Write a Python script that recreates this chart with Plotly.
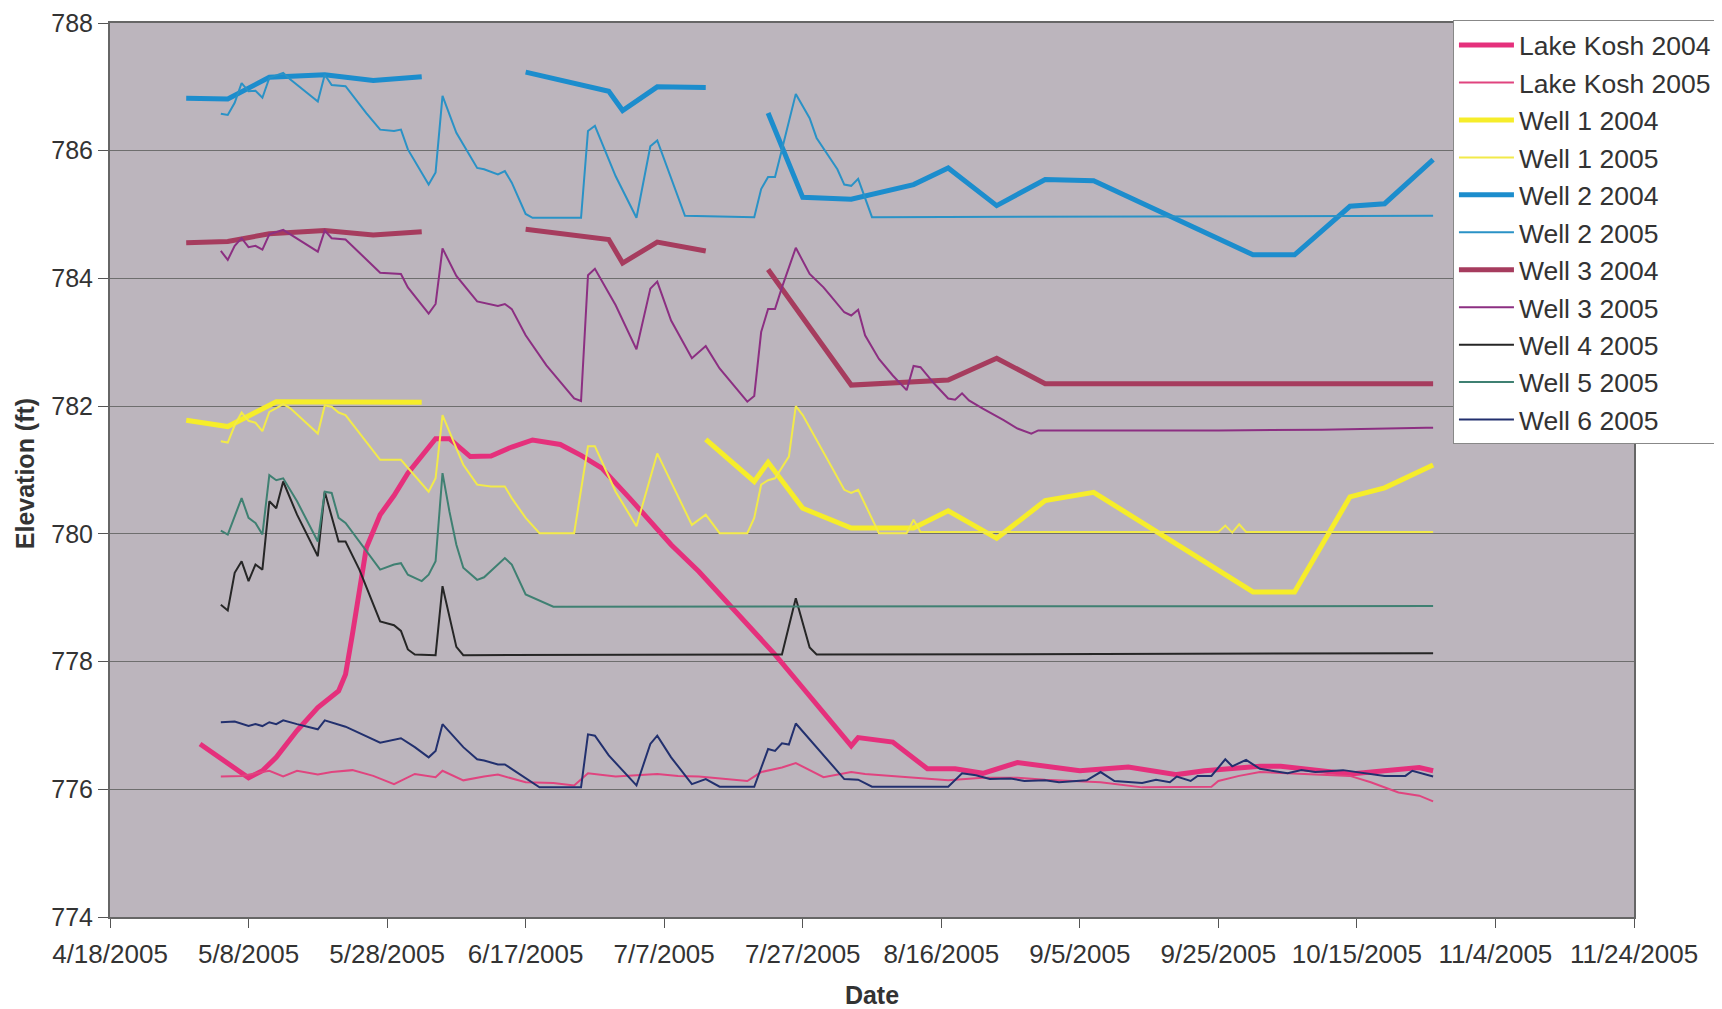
import pandas as pd
import plotly.graph_objects as go

# x values are days after 4/18/2005 (the axis origin); 2004 series are plotted on 2005 dates
START = "2005-04-18"

lake04_days = [13, 20, 22, 24, 27, 30, 33, 34, 35, 36, 37, 39, 41, 43, 47, 49, 52, 55, 58, 61,
               65, 68, 71, 75, 81, 85, 93, 96, 100, 104, 107, 108, 113, 118, 122, 126, 131, 140,
               147, 154, 158, 166, 169, 179, 189, 191]
lake04 = [776.71, 776.18, 776.29, 776.50, 776.92, 777.28, 777.54, 777.80, 778.43, 779.15,
          779.78, 780.30, 780.60, 780.95, 781.49, 781.49, 781.21, 781.22, 781.36, 781.47,
          781.40, 781.23, 781.03, 780.56, 779.83, 779.41, 778.48, 778.11, 777.59, 777.07,
          776.68, 776.81, 776.74, 776.32, 776.32, 776.25, 776.42, 776.29, 776.35, 776.23,
          776.29, 776.36, 776.36, 776.24, 776.34, 776.29]

lake05_days = [16, 19, 23, 25, 27, 30, 32, 35, 38, 41, 44, 47, 48, 51, 54, 56, 60, 64, 67, 69,
               73, 79, 82, 85, 92, 94, 97, 99, 103, 107, 109, 115, 121, 126, 131, 135, 143, 149,
               159, 160, 163, 166, 172, 179, 182, 186, 189, 191]
lake05 = [776.20, 776.21, 776.29, 776.20, 776.29, 776.23, 776.27, 776.30, 776.21, 776.08,
          776.24, 776.19, 776.29, 776.14, 776.20, 776.23, 776.11, 776.10, 776.06, 776.25,
          776.20, 776.24, 776.21, 776.20, 776.13, 776.27, 776.34, 776.41, 776.19, 776.27,
          776.24, 776.19, 776.14, 776.18, 776.18, 776.15, 776.11, 776.03, 776.04, 776.13,
          776.21, 776.27, 776.24, 776.21, 776.11, 775.95, 775.90, 775.81]

w1_04_days = [11, 17, 24, 31, 38, 45, 60, 86, 93, 95, 100, 107, 116, 121, 128, 135, 142, 165,
              171, 179, 184, 191]
w1_04 = [781.78, 781.68, 782.07, 782.07, 782.07, 782.06, None, 781.48, 780.82, 781.12, 780.40,
         780.09, 780.09, 780.36, 779.93, 780.52, 780.65, 779.09, 779.09, 780.58, 780.72, 781.08]

w1_05_days = [16, 17, 18, 19, 20, 21, 22, 23, 24, 25, 26, 30, 31, 32, 33, 34, 39, 42, 46, 47,
              48, 51, 53, 55, 57, 58, 60, 62, 67, 69, 70, 73, 76, 79, 84, 86, 88, 92, 93, 94,
              95, 96, 98, 99, 100, 106, 107, 108, 111, 115, 116, 117, 160, 161, 162, 163, 164, 191]
w1_05 = [781.45, 781.43, 781.70, 781.90, 781.77, 781.74, 781.61, 781.91, 781.97, 782.03,
         781.97, 781.57, 782.01, 781.99, 781.90, 781.86, 781.16, 781.16, 780.66, 780.87,
         781.86, 781.08, 780.77, 780.74, 780.74, 780.56, 780.25, 780.01, 780.01, 781.37,
         781.37, 780.66, 780.12, 781.26, 780.14, 780.30, 780.01, 780.01, 780.25, 780.77,
         780.84, 780.87, 781.21, 782.00, 781.86, 780.69, 780.64, 780.69, 780.01, 780.01,
         780.22, 780.03, 780.03, 780.13, 780.02, 780.15, 780.03, 780.03]

w2_04_days = [11, 17, 23, 31, 38, 45, 52, 60, 72, 74, 79, 86, 90, 95, 100, 107, 116, 121, 128,
              135, 142, 165, 171, 179, 184, 191]
w2_04 = [786.82, 786.81, 787.15, 787.19, 787.10, 787.16, None, 787.23, 786.93, 786.63,
         787.00, 786.99, None, 786.59, 785.27, 785.24, 785.47, 785.73, 785.14, 785.55,
         785.53, 784.37, 784.37, 785.13, 785.17, 785.86]

w2_05_days = [16, 17, 18, 19, 20, 21, 22, 23, 25, 26, 30, 31, 32, 34, 37, 39, 41, 42, 43, 46,
              47, 48, 50, 53, 54, 56, 57, 58, 60, 61, 68, 69, 70, 73, 76, 78, 79, 83, 93, 94,
              95, 96, 97, 99, 101, 102, 105, 106, 107, 108, 110, 191]
w2_05 = [786.58, 786.56, 786.75, 787.06, 786.93, 786.94, 786.83, 787.14, 787.22, 787.12,
         786.77, 787.19, 787.03, 787.01, 786.59, 786.33, 786.31, 786.33, 786.02, 785.47,
         785.66, 786.86, 786.28, 785.73, 785.71, 785.63, 785.68, 785.50, 785.01, 784.95,
         784.95, 786.31, 786.39, 785.60, 784.95, 786.07, 786.16, 784.98, 784.96, 785.40,
         785.59, 785.59, 786.02, 786.89, 786.51, 786.20, 785.71, 785.47, 785.45, 785.56,
         784.96, 784.98]

w3_04_days = [11, 17, 23, 31, 38, 45, 52, 60, 72, 74, 79, 86, 90, 95, 107, 121, 128, 135, 191]
w3_04 = [784.56, 784.58, 784.70, 784.75, 784.68, 784.73, None, 784.77, 784.61, 784.24,
         784.57, 784.43, None, 784.14, 782.33, 782.41, 782.75, 782.35, 782.35]

w3_05_days = [16, 17, 18, 19, 20, 21, 22, 23, 25, 26, 30, 31, 32, 34, 37, 39, 42, 43, 46, 47,
              48, 50, 53, 54, 56, 57, 58, 60, 63, 65, 67, 68, 69, 70, 73, 76, 78, 79, 81, 84,
              86, 88, 90, 92, 93, 94, 95, 96, 97, 99, 101, 103, 104, 106, 107, 108, 109, 111,
              113, 115, 116, 117, 119, 121, 122, 123, 124, 126, 129, 131, 133, 134, 160, 175,
              190, 191]
w3_05 = [784.43, 784.29, 784.51, 784.63, 784.49, 784.51, 784.45, 784.69, 784.76, 784.69,
         784.42, 784.75, 784.63, 784.61, 784.30, 784.09, 784.07, 783.86, 783.45, 783.60,
         784.47, 784.04, 783.64, 783.62, 783.57, 783.60, 783.52, 783.11, 782.64, 782.38,
         782.12, 782.08, 784.05, 784.15, 783.58, 782.89, 783.84, 783.95, 783.34, 782.75,
         782.94, 782.59, 782.33, 782.07, 782.16, 783.16, 783.52, 783.52, 783.86, 784.48,
         784.07, 783.86, 783.73, 783.47, 783.42, 783.51, 783.11, 782.74, 782.48, 782.25,
         782.63, 782.61, 782.35, 782.12, 782.10, 782.20, 782.09, 781.96, 781.78, 781.65,
         781.57, 781.62, 781.62, 781.63, 781.66, 781.66]

w4_05_days = [16, 17, 18, 19, 20, 21, 22, 23, 24, 25, 27, 30, 31, 33, 34, 36, 39, 41, 42, 43,
              44, 47, 48, 50, 51, 97, 99, 101, 102, 191]
w4_05 = [778.89, 778.80, 779.39, 779.57, 779.26, 779.52, 779.44, 780.51, 780.40, 780.82,
         780.30, 779.65, 780.66, 779.88, 779.88, 779.44, 778.63, 778.57, 778.48, 778.19,
         778.11, 778.10, 779.18, 778.23, 778.10, 778.11, 778.99, 778.22, 778.11, 778.13]

w5_05_days = [16, 17, 19, 20, 21, 22, 23, 24, 25, 27, 30, 31, 32, 33, 34, 36, 39, 41, 42, 43,
              45, 46, 47, 48, 49, 50, 51, 53, 54, 57, 58, 60, 62, 64, 191]
w5_05 = [780.05, 779.99, 780.56, 780.25, 780.17, 779.99, 780.92, 780.84, 780.87, 780.51,
         779.88, 780.66, 780.64, 780.25, 780.17, 779.88, 779.44, 779.52, 779.54, 779.36,
         779.26, 779.36, 779.57, 780.95, 780.35, 779.83, 779.47, 779.28, 779.32, 779.62,
         779.52, 779.05, 778.95, 778.86, 778.87]

w6_05_days = [16, 18, 20, 21, 22, 23, 24, 25, 27, 30, 31, 33, 34, 39, 42, 44, 46, 47, 48, 51,
              53, 54, 56, 57, 61, 62, 68, 69, 70, 72, 76, 78, 79, 81, 84, 86, 88, 93, 95, 96,
              97, 98, 99, 106, 108, 110, 121, 123, 125, 127, 130, 132, 135, 137, 141, 143, 145,
              149, 151, 153, 154, 156, 157, 159, 161, 162, 164, 166, 170, 172, 174, 178, 184,
              187, 188, 191]
w6_05 = [777.05, 777.06, 776.99, 777.02, 776.99, 777.05, 777.02, 777.08, 777.02, 776.94,
         777.08, 777.01, 776.98, 776.73, 776.80, 776.66, 776.50, 776.60, 777.02, 776.66,
         776.47, 776.45, 776.39, 776.39, 776.11, 776.03, 776.03, 776.86, 776.84, 776.53,
         776.06, 776.71, 776.84, 776.50, 776.08, 776.16, 776.04, 776.04, 776.63, 776.60,
         776.72, 776.70, 777.03, 776.16, 776.15, 776.04, 776.04, 776.25, 776.22, 776.16,
         776.17, 776.13, 776.14, 776.11, 776.14, 776.27, 776.13, 776.10, 776.15, 776.11,
         776.20, 776.13, 776.21, 776.21, 776.47, 776.36, 776.46, 776.32, 776.25, 776.30,
         776.27, 776.30, 776.21, 776.21, 776.29, 776.20]

tick_dates = ["2005-04-18", "2005-05-08", "2005-05-28", "2005-06-17", "2005-07-07", "2005-07-27",
              "2005-08-16", "2005-09-05", "2005-09-25", "2005-10-15", "2005-11-04", "2005-11-24"]
tick_labels = ["4/18/2005", "5/8/2005", "5/28/2005", "6/17/2005", "7/7/2005", "7/27/2005",
               "8/16/2005", "9/5/2005", "9/25/2005", "10/15/2005", "11/4/2005", "11/24/2005"]

# (name, days, values, color, width)
series = [
    ("Lake Kosh 2004", lake04_days, lake04, "#e5307c", 5),
    ("Lake Kosh 2005", lake05_days, lake05, "#e0447f", 2),
    ("Well 1 2004", w1_04_days, w1_04, "#f6ed2a", 5),
    ("Well 1 2005", w1_05_days, w1_05, "#f2ea4a", 2),
    ("Well 2 2004", w2_04_days, w2_04, "#1c8dcd", 5),
    ("Well 2 2005", w2_05_days, w2_05, "#2a92c6", 2),
    ("Well 3 2004", w3_04_days, w3_04, "#a63c5e", 5),
    ("Well 3 2005", w3_05_days, w3_05, "#8c2f82", 2),
    ("Well 4 2005", w4_05_days, w4_05, "#262626", 2),
    ("Well 5 2005", w5_05_days, w5_05, "#3f8072", 2),
    ("Well 6 2005", w6_05_days, w6_05, "#22306e", 2),
]

start = pd.Timestamp(START)
fig = go.Figure()
for name, days, vals, color, width in series:
    x = [start + pd.Timedelta(days=d) for d in days]
    fig.add_trace(go.Scatter(x=x, y=vals, mode="lines", name=name,
                             line=dict(color=color, width=width), connectgaps=False))

font_family = "Liberation Sans, Arial, sans-serif"

# the page body adds an 8px offset, so the figure is 8px smaller than the window
fig.update_layout(
    width=1714, height=1001,
    margin=dict(l=102, r=88, t=15, b=92, autoexpand=False),
    paper_bgcolor="#ffffff",
    plot_bgcolor="#bcb5bd",
    font=dict(family=font_family, size=26, color="#333333"),
    legend=dict(
        x=0.8812, y=1.003, xanchor="left", yanchor="top",
        bgcolor="#ffffff", bordercolor="#888888", borderwidth=1,
        font=dict(size=26.5, color="#333333"),
        itemwidth=55,
    ),
)

# y-axis title placed as an annotation so it can sit closer to the page edge
fig.add_annotation(
    text="<b>Elevation (ft)</b>", textangle=-90,
    xref="paper", yref="paper", x=-0.056, y=0.496,
    xanchor="center", yanchor="middle", showarrow=False,
    font=dict(size=25, color="#333333"),
)

fig.update_xaxes(
    type="date",
    range=["2005-04-18", "2005-11-24"],
    tickvals=tick_dates, ticktext=tick_labels,
    ticks="outside", ticklen=9, tickcolor="#555555",
    ticklabelstandoff=4, ticklabeloverflow="allow",
    tickfont=dict(size=26),
    showgrid=False, zeroline=False, automargin=False,
    showline=True, linecolor="#666666", linewidth=2, mirror=True,
    title=dict(text="<b>Date</b>", font=dict(size=25, color="#333333"), standoff=18),
)
fig.update_yaxes(
    range=[774, 788], dtick=2, tick0=774,
    ticks="outside", ticklen=10, tickcolor="#555555",
    ticklabeloverflow="allow",
    tickfont=dict(size=25),
    showgrid=True, gridcolor="#6e6e6e", gridwidth=1,
    zeroline=False, automargin=False,
    showline=True, linecolor="#666666", linewidth=2, mirror=True,
)

fig.write_html("out.html")
